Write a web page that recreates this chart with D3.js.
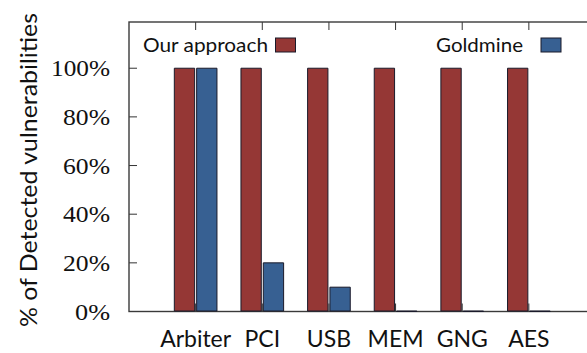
<!DOCTYPE html>
<html>
<head>
<meta charset="utf-8">
<script src="https://cdn.jsdelivr.net/npm/d3@7"></script>
<style>
  html, body { margin: 0; padding: 0; background: #fff; }
  svg { display: block; }
  .serif { font-family: "Liberation Serif", "Times New Roman", serif; }
  .sans { font-family: Lato, "Open Sans", sans-serif; }
</style>
</head>
<body>
<svg id="chart" width="587" height="353"></svg>
<script>
// Benchmarks and detection rates (percent)
const categories = ["Arbiter", "PCI", "USB", "MEM", "GNG", "AES"];
const seriesNames = ["Our approach", "Goldmine"];
const ourApproach = [100, 100, 100, 100, 100, 100];
const goldmine = [100, 20, 10, 0, 0, 0];
const yTicks = [0, 20, 40, 60, 80, 100];
const yTickLabels = ["0%", "20%", "40%", "60%", "80%", "100%"];
const yLabel = "% of Detected vulnerabilities";

const colors = ["#953735", "#376092"];
const series = [ourApproach, goldmine];

const svg = d3.select("#chart");
const frame = { left: 129, right: 595.5, top: 22, bottom: 311.5 };

// x: category index on a linear scale, one slot of padding each side
const x = d3.scaleLinear().domain([-1, categories.length]).range([frame.left, frame.right]);
const y = d3.scaleLinear().domain([0, 119]).range([frame.bottom, frame.top]);

const barW = 0.305;
const halfGap = 0.015;

// tick marks, inward on all four sides
const tickLen = 8;
const tickG = svg.append("g").attr("stroke", "#333").attr("stroke-width", 1);
yTicks.forEach(t => {
  tickG.append("line").attr("x1", frame.left).attr("x2", frame.left + tickLen)
    .attr("y1", y(t)).attr("y2", y(t));
  tickG.append("line").attr("x1", frame.right).attr("x2", frame.right - tickLen)
    .attr("y1", y(t)).attr("y2", y(t));
});
categories.forEach((c, i) => {
  tickG.append("line").attr("x1", x(i)).attr("x2", x(i))
    .attr("y1", frame.top).attr("y2", frame.top + tickLen);
  tickG.append("line").attr("x1", x(i)).attr("x2", x(i))
    .attr("y1", frame.bottom).attr("y2", frame.bottom - tickLen);
});

// frame
svg.append("rect")
  .attr("x", frame.left).attr("y", frame.top)
  .attr("width", frame.right - frame.left).attr("height", frame.bottom - frame.top)
  .attr("fill", "none").attr("stroke", "#3a3a3a").attr("stroke-width", 1.4);

// bars as closed paths so zero-height bars still show their outline
series.forEach((vals, s) => {
  svg.append("g")
    .selectAll("path")
    .data(vals)
    .join("path")
    .attr("d", (d, i) => {
      const x0 = s === 0 ? x(i - halfGap - barW) : x(i + halfGap);
      const x1 = s === 0 ? x(i - halfGap) : x(i + halfGap + barW);
      return `M${x0},${y(0) - 0.5}H${x1}V${y(d)}H${x0}Z`;
    })
    .attr("fill", colors[s])
    .attr("stroke", "#1a1a2a")
    .attr("stroke-width", 1);
});

// y tick labels
svg.append("g").selectAll("text")
  .data(yTicks)
  .join("text")
  .attr("class", "serif")
  .attr("fill", "#111")
  .attr("x", 110)
  .attr("y", d => y(d) + 8)
  .attr("text-anchor", "end")
  .attr("font-size", 24)
  .attr("textLength", (d, i) => yTickLabels[i].length * 12 + 11)
  .attr("lengthAdjust", "spacingAndGlyphs")
  .text((d, i) => yTickLabels[i]);

// x category labels
svg.append("g").selectAll("text")
  .data(categories)
  .join("text")
  .attr("class", "sans")
  .attr("fill", "#111")
  .attr("x", (d, i) => x(i))
  .attr("y", 347)
  .attr("text-anchor", "middle")
  .attr("font-size", 23)
  .text(d => d);

// y axis title
svg.append("text")
  .attr("class", "sans")
  .attr("fill", "#111")
  .attr("transform", "translate(37,170) rotate(-90)")
  .attr("text-anchor", "middle")
  .attr("font-size", 23)
  .attr("textLength", 314)
  .attr("lengthAdjust", "spacingAndGlyphs")
  .text(yLabel);

// legend: label then swatch, two entries across the top
const legend = [
  { name: seriesNames[0], textStart: 143, len: 125, boxX: 275.5, color: colors[0] },
  { name: seriesNames[1], textStart: 436, len: 87, boxX: 541, color: colors[1] }
];
legend.forEach(l => {
  svg.append("text")
    .attr("class", "sans")
    .attr("fill", "#111")
    .attr("x", l.textStart).attr("y", 51.5)
    .attr("font-size", 20)
    .attr("textLength", l.len)
    .attr("lengthAdjust", "spacingAndGlyphs")
    .text(l.name);
  svg.append("rect")
    .attr("x", l.boxX).attr("y", 38)
    .attr("width", 20).attr("height", 14)
    .attr("fill", l.color).attr("stroke", "#1a1a2a").attr("stroke-width", 1);
});
</script>
</body>
</html>
